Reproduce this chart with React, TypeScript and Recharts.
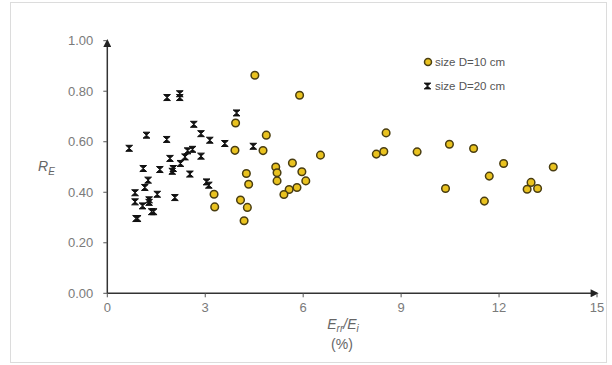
import React from 'react';
import { ScatterChart, Scatter, XAxis, YAxis } from 'recharts';

const xTicks = [0, 3, 6, 9, 12, 15];
const yTicks = [0, 0.2, 0.4, 0.6, 0.8, 1.0];

const seriesNames = ['size D=10 cm', 'size D=20 cm'];

// size D=10 cm (yellow circles): [Err/Ei %, RE]
const d10Points: [number, number][] = [
  [3.27, 0.392], [3.29, 0.342], [3.93, 0.674], [3.91, 0.566], [4.26, 0.474],
  [4.33, 0.432], [4.08, 0.369], [4.29, 0.340], [4.19, 0.287], [4.77, 0.565],
  [4.87, 0.626], [4.52, 0.863], [5.89, 0.784], [6.53, 0.547], [5.16, 0.500],
  [5.20, 0.477], [5.20, 0.445], [5.67, 0.516], [5.96, 0.481], [6.08, 0.445],
  [5.57, 0.411], [5.81, 0.419], [5.41, 0.391],
  [8.54, 0.635], [8.24, 0.551], [8.47, 0.561], [9.49, 0.560], [10.48, 0.590],
  [11.22, 0.573], [12.14, 0.514], [13.66, 0.500], [11.70, 0.464], [10.36, 0.415],
  [11.55, 0.365], [12.98, 0.439], [12.86, 0.412], [13.18, 0.415],
];

// size D=20 cm (black crosses)
const d20Points: [number, number][] = [
  [0.67, 0.574], [1.20, 0.626], [1.83, 0.775], [2.22, 0.775], [2.22, 0.790],
  [1.82, 0.609], [2.65, 0.669], [2.87, 0.632], [1.10, 0.494], [1.25, 0.448],
  [1.15, 0.419], [0.85, 0.398], [0.85, 0.362], [1.08, 0.346], [1.28, 0.370],
  [1.28, 0.360], [0.88, 0.296], [0.93, 0.296], [1.36, 0.323], [1.42, 0.323],
  [1.53, 0.392], [1.61, 0.490], [1.92, 0.534], [1.99, 0.483], [2.07, 0.379],
  [2.24, 0.514], [2.38, 0.540], [2.46, 0.564], [2.61, 0.570], [2.53, 0.472],
  [2.87, 0.543], [3.96, 0.714], [3.14, 0.606], [3.60, 0.593], [4.47, 0.582],
  [3.04, 0.441], [3.11, 0.428], [2.02, 0.494],
];

const d10 = d10Points.map(([x, y]) => ({ x, y }));
const d20 = d20Points.map(([x, y]) => ({ x, y }));

const CIRCLE_FILL = '#e9c21f';
const CIRCLE_STROKE = '#4a3e12';

const CircleShape = (props: any) => {
  const { cx, cy } = props;
  if (cx == null || cy == null) return null;
  return <circle cx={cx} cy={cy} r={3.8} fill={CIRCLE_FILL} stroke={CIRCLE_STROKE} strokeWidth={1.5} />;
};

const crossPath = (cx: number, cy: number) =>
  `M${cx - 3.4},${cy - 3} L${cx + 3.4},${cy - 3} L${cx - 3.4},${cy + 3} L${cx + 3.4},${cy + 3} Z`;

const CrossShape = (props: any) => {
  const { cx, cy } = props;
  if (cx == null || cy == null) return null;
  return <path d={crossPath(cx, cy)} fill="#111" stroke="#111" strokeWidth={1} strokeLinejoin="miter" />;
};

const FONT = 'Liberation Sans, Arial, Helvetica, sans-serif';

const YLabel = () => (
  <text x={38} y={171} fill="#666" fontFamily={FONT} fontSize={14} fontStyle="italic">
    R<tspan fontSize={10} dy={4}>E</tspan>
  </text>
);

const XLabel = () => (
  <g>
    <text x={343} y={329} textAnchor="middle" fill="#666" fontFamily={FONT} fontSize={14} fontStyle="italic">
      E<tspan fontSize={10} dy={3}>rr</tspan>
      <tspan dy={-3}>/E</tspan>
      <tspan fontSize={10} dy={3}>i</tspan>
    </text>
    <text x={342} y={349} textAnchor="middle" fill="#666" fontFamily={FONT} fontSize={14}>
      (%)
    </text>
  </g>
);

export default function App() {
  return (
    <div style={{ position: 'absolute', left: 0, top: 0, width: 612, height: 365, background: '#fff' }}>
      <svg width={0} height={0} style={{ position: 'absolute' }}>
        <defs>
          <marker id="arrowHead" viewBox="0 0 10 10" refX={8} refY={5} markerWidth={9} markerHeight={8}
            markerUnits="userSpaceOnUse" orient="auto-start-reverse">
            <path d="M0,0 L10,5 L0,10 Z" fill="#222" />
          </marker>
        </defs>
      </svg>
      <div style={{ position: 'absolute', left: 10, top: 2, width: 595, height: 359, border: '1.5px solid #dcdcdc' }} />
      <div style={{ position: 'absolute', left: 0, top: 0 }}>
        <ScatterChart width={612} height={365} margin={{ top: 40.7, right: 15, bottom: 41.7, left: 47.3 }}>
          <XAxis
            type="number"
            dataKey="x"
            domain={[0, 15]}
            ticks={xTicks}
            interval={0}
            height={30}
            tickSize={4}
            tickMargin={5}
            tick={{ fill: '#7a7a7a', fontSize: 13, fontFamily: FONT }}
            tickLine={{ stroke: '#555' }}
            axisLine={{ stroke: '#333', strokeWidth: 1.5, markerEnd: 'url(#arrowHead)' } as any}
            allowDataOverflow
            label={<XLabel />}
          />
          <YAxis
            type="number"
            dataKey="y"
            domain={[0, 1]}
            ticks={yTicks}
            interval={0}
            width={60}
            tickSize={4}
            tickMargin={10}
            tickFormatter={(v: number) => v.toFixed(2)}
            tick={{ fill: '#7a7a7a', fontSize: 13, fontFamily: FONT }}
            tickLine={{ stroke: '#555' }}
            axisLine={{ stroke: '#333', strokeWidth: 1.5, markerStart: 'url(#arrowHead)' } as any}
            allowDataOverflow
            label={<YLabel />}
          />
          <Scatter name={seriesNames[1]} data={d20} shape={CrossShape} isAnimationActive={false} />
          <Scatter name={seriesNames[0]} data={d10} shape={CircleShape} isAnimationActive={false} />
        </ScatterChart>
      </div>
      <svg width={612} height={365} style={{ position: 'absolute', left: 0, top: 0, pointerEvents: 'none' }}>
        <circle cx={428} cy={62} r={3.5} fill={CIRCLE_FILL} stroke={CIRCLE_STROKE} strokeWidth={1.5} />
        <text x={435} y={66} fill="#555" fontFamily={FONT} fontSize={11.5}>{seriesNames[0]}</text>
        <path d={crossPath(427.5, 86)} fill="#111" stroke="#111" strokeWidth={0.8} />
        <text x={435} y={90} fill="#555" fontFamily={FONT} fontSize={11.5}>{seriesNames[1]}</text>
      </svg>
    </div>
  );
}
